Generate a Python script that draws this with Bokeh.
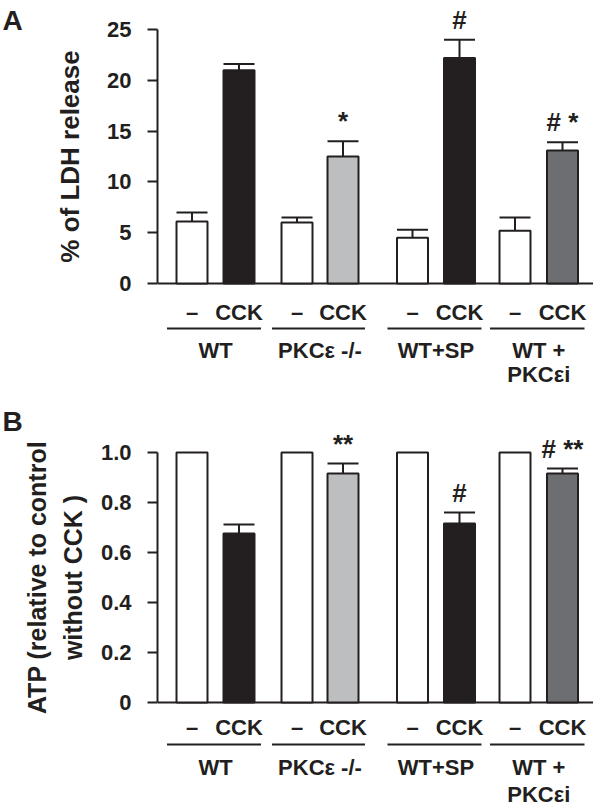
import math
from bokeh.plotting import figure
from bokeh.models import Range1d, FixedTicker, CustomJSTickFormatter
from bokeh.layouts import column, row
from bokeh.core.properties import value
from bokeh.embed import file_html
from bokeh.resources import INLINE

# ---------------- data ----------------
groups = ["WT", "PKCε -/-", "WT+SP", "WT +\nPKCεi"]
treatments = ["–", "CCK"]

ldh_ctrl = [6.1, 6.0, 4.5, 5.2]
ldh_ctrl_sem = [0.9, 0.5, 0.8, 1.3]
ldh_cck = [21.0, 12.5, 22.2, 13.1]
ldh_cck_sem = [0.6, 1.5, 1.8, 0.8]
ldh_sig = ["", "*", "#", "# *"]
ldh_ticks = [0, 5, 10, 15, 20, 25]

atp_ctrl = [1.0, 1.0, 1.0, 1.0]
atp_ctrl_sem = [0.0, 0.0, 0.0, 0.0]
atp_cck = [0.676, 0.916, 0.716, 0.916]
atp_cck_sem = [0.036, 0.040, 0.044, 0.020]
atp_sig = ["", "**", "#", "# **"]
atp_ticks = [0, 0.2, 0.4, 0.6, 0.8, 1.0]

# ---------------- layout / style ----------------
ctrl_x = [191.5, 296.5, 412, 514.5]   # page-pixel x positions of bars
cck_x = [238.5, 342.5, 459, 562]
bar_w = 31
cck_colors = ["#231f20", "#bcbec0", "#231f20", "#6d6e71"]
INK = "#231f20"
FONT = "Liberation Sans"
LEFT_W = 88
PAGE_W = 593
FRAME_LEFT = 157
FS = "22px"


def panel(fig_top, H, y0_page, ytop_page, ticks, fmt, ctrl, ctrl_sem, cck, cck_sem,
          sig, letter, letter_y, ylabel_lines, ylabel_xs, ylabel_fs, rows):
    tmax = ticks[-1]
    k = (y0_page - ytop_page) / tmax            # px per unit
    y0_local = y0_page - fig_top
    start = -(H - y0_local) / k
    end = y0_local / k

    def dy(page_y):
        return (y0_page - page_y) / k

    # ---- left strip: panel letter + y label ----
    q = figure(width=LEFT_W, height=H, x_range=Range1d(0, LEFT_W),
               y_range=Range1d(fig_top + H, fig_top), output_backend="svg",
               toolbar_location=None, x_axis_location=None, y_axis_location=None,
               min_border=0)
    q.outline_line_color = None
    q.grid.visible = False
    q.text(x=[2], y=[letter_y], text=[letter], text_align="left", text_baseline="middle",
           text_font=value(FONT), text_font_style="bold", text_font_size="28px",
           text_color=INK)
    yl_center = y0_page - k * tmax / 2
    q.text(x=ylabel_xs, y=[yl_center] * len(ylabel_lines), text=ylabel_lines,
           angle=math.pi / 2, text_align="center", text_baseline="middle",
           text_font=value(FONT), text_font_style="bold", text_font_size=ylabel_fs,
           text_color=INK)

    # ---- main plot ----
    p = figure(width=PAGE_W - LEFT_W, height=H, x_range=Range1d(FRAME_LEFT, PAGE_W),
               y_range=Range1d(start, end), output_backend="svg", toolbar_location=None,
               x_axis_location=None, min_border_left=FRAME_LEFT - LEFT_W, min_border_right=0,
               min_border_top=0, min_border_bottom=0)
    p.outline_line_color = None
    p.grid.visible = False

    ax = p.yaxis[0]
    ax.ticker = FixedTicker(ticks=ticks)
    ax.bounds = (0, tmax)
    ax.axis_line_width = 2
    ax.axis_line_color = INK
    ax.major_tick_line_width = 2
    ax.major_tick_line_color = INK
    ax.major_tick_in = 0
    ax.major_tick_out = 10
    ax.minor_tick_line_color = None
    ax.major_label_standoff = 16
    ax.major_label_text_font = FONT
    ax.major_label_text_font_style = "bold"
    ax.major_label_text_font_size = FS
    ax.major_label_text_color = INK
    if fmt is not None:
        ax.formatter = fmt

    # baseline
    p.hspan(y=[0], line_width=2, line_color=INK)

    # bars
    p.vbar(x=ctrl_x, top=ctrl, bottom=0, width=bar_w, fill_color="white",
           line_color=INK, line_width=2)
    p.vbar(x=cck_x, top=cck, bottom=0, width=bar_w, fill_color=cck_colors,
           line_color=INK, line_width=2)

    # error bars (upper only)
    xs = [x for x, s in zip(ctrl_x, ctrl_sem) if s > 0] + cck_x
    tops = [v for v, s in zip(ctrl, ctrl_sem) if s > 0] + cck
    sems = [s for s in ctrl_sem if s > 0] + cck_sem
    ends = [t + s for t, s in zip(tops, sems)]
    p.segment(x0=xs, y0=tops, x1=xs, y1=ends, line_width=2, line_color=INK)
    p.segment(x0=[x - bar_w / 2 for x in xs], y0=ends, x1=[x + bar_w / 2 for x in xs],
              y1=ends, line_width=2, line_color=INK)

    # significance marks
    cck_ends = [t + s for t, s in zip(cck, cck_sem)]
    p.text(x=cck_x, y=cck_ends, text=sig, text_align="center", text_baseline="bottom",
           y_offset=-5, text_font=value(FONT), text_font_style="bold",
           text_font_size="26px", text_color=INK)

    # labels under the axis
    r_cck, r_line, r_name, r_name2 = rows
    txt_kw = dict(text_align="center", text_baseline="middle", text_font=value(FONT),
                  text_font_style="bold", text_font_size=FS, text_color=INK)
    p.text(x=ctrl_x, y=[dy(y0_page + r_cck)] * 4, text=[treatments[0]] * 4, **txt_kw)
    p.text(x=cck_x, y=[dy(y0_page + r_cck)] * 4, text=[treatments[1]] * 4, **txt_kw)
    p.segment(x0=[x - 25 for x in ctrl_x], y0=[dy(y0_page + r_line)] * 4,
              x1=[x + 22 for x in cck_x], y1=[dy(y0_page + r_line)] * 4,
              line_width=2, line_color=INK)
    centers = [(a + b) / 2 for a, b in zip(ctrl_x, cck_x)]
    line1 = [g.split("\n")[0] for g in groups]
    line2 = [g.split("\n")[1] if "\n" in g else "" for g in groups]
    p.text(x=centers, y=[dy(y0_page + r_name)] * 4, text=line1, **txt_kw)
    p.text(x=centers, y=[dy(y0_page + r_name2)] * 4, text=line2, **txt_kw)

    return row(q, p, spacing=0)


pA = panel(0, 390, 283, 29, ldh_ticks, None, ldh_ctrl, ldh_ctrl_sem, ldh_cck, ldh_cck_sem,
           ldh_sig, "A", 20, ["% of LDH release"], [69], "26px", (29, 45, 67, 91))

fmt = CustomJSTickFormatter(code="return tick == 0 ? '0' : tick.toFixed(1);")
pB = panel(390, 422, 702, 452, atp_ticks, fmt, atp_ctrl, atp_ctrl_sem, atp_cck, atp_cck_sem,
           atp_sig, "B", 421, ["ATP (relative to control", "without CCK )"], [36, 72], "25px",
           (25, 42, 65, 92))

layout = column(pA, pB, spacing=0)
open("out.html", "w").write(file_html(layout, INLINE))
